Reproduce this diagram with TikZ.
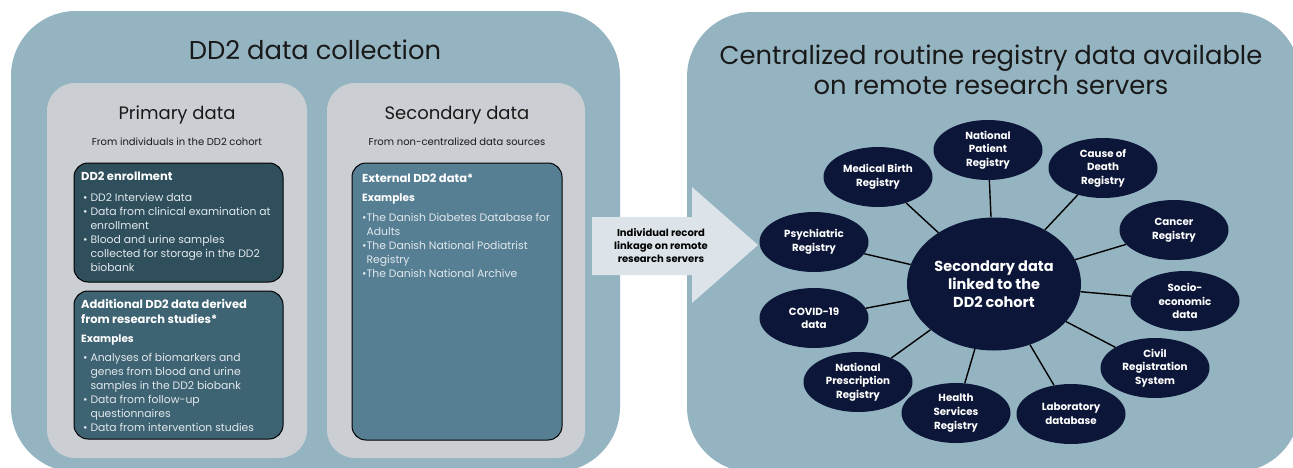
\documentclass[tikz,border=0pt]{standalone}
\usepackage{fontspec}
\setmainfont{Poppins}
\usepackage{tikz}
\usetikzlibrary{shapes.geometric}

\definecolor{panelblue}{HTML}{95B4C2}
\definecolor{panelgrey}{HTML}{CBCFD3}
\definecolor{enrolfill}{HTML}{2F4F5D}
\definecolor{addfill}{HTML}{3E6373}
\definecolor{extfill}{HTML}{567F94}
\definecolor{regnavy}{HTML}{0C1638}
\definecolor{arrowfill}{HTML}{DCE4E9}
\definecolor{listwhite}{HTML}{E2E8EC}

\begin{document}
\begin{tikzpicture}[x=1pt,y=-1pt]
		\tikzstyle{every node}=[inner sep=0pt]
		\tikzstyle{panel}=[fill=panelblue, rounded corners=65pt]
		\tikzstyle{greybox}=[fill=panelgrey, rounded corners=28pt]
		\tikzstyle{databox}=[draw=black, line width=1pt, rounded corners=14pt]
		\tikzstyle{bigtitle}=[font=\fontsize{25.8}{30}\selectfont, align=center, text=black!90]
		\tikzstyle{subtitle}=[font=\fontsize{18}{22}\selectfont, text=black!90]
		\tikzstyle{subnote}=[font=\fontsize{10}{12}\selectfont, text=black!90]
		\tikzstyle{boxhead}=[anchor=north west, align=left, text=white, font=\fontsize{11.5}{15}\selectfont\bfseries]
		\tikzstyle{boxex}=[anchor=north west, text=white, font=\fontsize{10.5}{13}\selectfont\bfseries]
		\tikzstyle{boxlist}=[anchor=north west, align=left, text=listwhite, font=\fontsize{10.8}{14.1}\selectfont]
		\tikzstyle{registry}=[ellipse, fill=regnavy, minimum width=109pt, minimum height=60pt, align=center, text=white, font=\fontsize{10.3}{13.6}\selectfont\bfseries]
		\tikzstyle{hubline}=[line width=1.4pt, black]

		\useasboundingbox (0,0) rectangle (1293,467);
		\fill[white] (0,0) rectangle (1293,467);
		\fill[panel] (11,11) rectangle (620,472);
		\fill[panel] (687,12) rectangle (1300,472);
		\fill[greybox] (47,83) rectangle (307,458);
		\fill[greybox] (327,83) rectangle (585,458);
		\draw[databox, fill=enrolfill] (74,163) rectangle (283,282);
		\draw[databox, fill=addfill] (74,291) rectangle (283,439);
		\draw[databox, fill=extfill] (352,163) rectangle (562,440);
		\fill[arrowfill] (592,217) -- (692,217) -- (692,187) -- (758,245) -- (692,303) -- (692,275) -- (592,275) -- cycle;

		\node (lefttitle) [bigtitle] at (315,50) {DD2 data collection};
		\node (righttitle) [bigtitle] at (991,70) {Centralized routine registry data available\\on remote research servers};
		\node (primtitle) [subtitle] at (177,115) {Primary data};
		\node (primnote) [subnote] at (177,142) {From individuals in the DD2 cohort};
		\node (sectitle) [subtitle] at (457,115) {Secondary data};
		\node (secnote) [subnote] at (457,142) {From non-centralized data sources};

		\node (enrhead) [boxhead] at (81,172) {DD2 enrollment};
		\node (enrlist) [boxlist] at (83,193) {\textbullet\ DD2 Interview data\\
			\textbullet\ Data from clinical examination at\\
			\hphantom{\textbullet\ }enrollment\\
			\textbullet\ Blood and urine samples\\
			\hphantom{\textbullet\ }collected for storage in the DD2\\
			\hphantom{\textbullet\ }biobank};

		\node (addhead) [boxhead] at (81,299) {Additional DD2 data derived\\from research studies*};
		\node (addex) [boxex] at (81,335) {Examples};
		\node (addlist) [boxlist] at (83,353) {\textbullet\ Analyses of biomarkers and\\
			\hphantom{\textbullet\ }genes from blood and urine\\
			\hphantom{\textbullet\ }samples in the DD2 biobank\\
			\textbullet\ Data from follow-up\\
			\hphantom{\textbullet\ }questionnaires\\
			\textbullet\ Data from intervention studies};

		\node (exthead) [boxhead] at (362,174) {External DD2 data*};
		\node (extex) [boxex] at (362,194) {Examples};
		\node (extlist) [boxlist] at (362,213) {\textbullet The Danish Diabetes Database for\\
			\hphantom{\textbullet}Adults\\
			\textbullet The Danish National Podiatrist\\
			\hphantom{\textbullet}Registry\\
			\textbullet The Danish National Archive};

		\node (linktext) [align=center, font=\fontsize{10}{13}\selectfont\bfseries] at (661,246) {Individual record\\linkage on remote\\research servers};

		\node (hub) [registry, minimum width=174pt, minimum height=133pt, font=\fontsize{14.5}{18}\selectfont\bfseries] at (994,284) {Secondary data\\linked to the\\DD2 cohort};
		\node (np) [registry] at (988,150) {National\\Patient\\Registry};
		\node (mb) [registry] at (878,177) {Medical Birth\\Registry};
		\node (cd) [registry] at (1103,168) {Cause of\\Death\\Registry};
		\node (ps) [registry] at (814,242) {Psychiatric\\Registry};
		\node (ca) [registry] at (1174,230) {Cancer\\Registry};
		\node (se) [registry] at (1185,301) {Socio-\\economic\\data};
		\node (cv) [registry] at (814,318) {COVID-19\\data};
		\node (cr) [registry] at (1155,368) {Civil\\Registration\\System};
		\node (pr) [registry] at (858,382) {National\\Prescription\\Registry};
		\node (hs) [registry] at (956,413) {Health\\Services\\Registry};
		\node (lb) [registry] at (1071,414) {Laboratory\\database};

		\draw[hubline] (hub) -- (np);
		\draw[hubline] (hub) -- (mb);
		\draw[hubline] (hub) -- (cd);
		\draw[hubline] (hub) -- (ps);
		\draw[hubline] (hub) -- (ca);
		\draw[hubline] (hub) -- (se);
		\draw[hubline] (hub) -- (cv);
		\draw[hubline] (hub) -- (cr);
		\draw[hubline] (hub) -- (pr);
		\draw[hubline] (hub) -- (hs);
		\draw[hubline] (hub) -- (lb);

	\end{tikzpicture}
\end{document}
